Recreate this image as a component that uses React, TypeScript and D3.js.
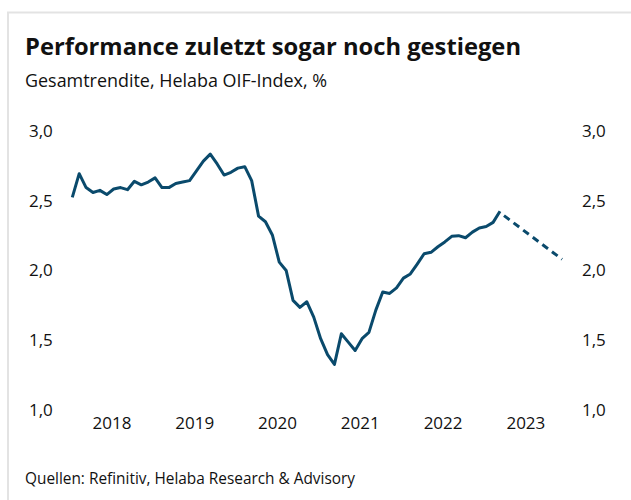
import React, { useEffect, useRef } from "react";
import * as d3 from "d3";

// monthly values, Jan 2018 .. Mar 2023
const returns = [
  2.52, 2.69, 2.59, 2.555, 2.57, 2.54, 2.58, 2.59, 2.575, 2.635, 2.61, 2.63,
  2.66, 2.59, 2.59, 2.62, 2.63, 2.64, 2.71, 2.78, 2.83, 2.76, 2.68, 2.7,
  2.73, 2.74, 2.64, 2.385, 2.345, 2.25, 2.055, 1.995, 1.78, 1.73, 1.77, 1.66,
  1.505, 1.39, 1.32, 1.54, 1.48, 1.42, 1.505, 1.55, 1.71, 1.84, 1.83, 1.87,
  1.94, 1.97, 2.04, 2.115, 2.125, 2.165, 2.2, 2.24, 2.245, 2.23, 2.27, 2.3,
  2.31, 2.34, 2.42,
];
// forecast: Mar 2023 -> Dec 2023
const forecastMonths = [62, 71];
const forecastValues = [2.41, 2.075];

const years = ["2018", "2019", "2020", "2021", "2022", "2023"];
const yTicks = [1.0, 1.5, 2.0, 2.5, 3.0];

const title = "Performance zuletzt sogar noch gestiegen";
const subtitle = "Gesamtrendite, Helaba OIF-Index, %";
const source = "Quellen: Refinitiv, Helaba Research & Advisory";

const W = 631;
const H = 500;
const BLUE = "#0a4a6c";
const FONT = "'Open Sans', 'Noto Sans', sans-serif";

export default function App() {
  const ref = useRef<SVGSVGElement>(null);

  useEffect(() => {
    const svg = d3.select(ref.current);
    svg.selectAll("*").remove();

    const x = d3.scaleLinear().domain([0, 62]).range([72.3, 500]);
    const y = d3.scaleLinear().domain([1, 3]).range([409, 130.5]);

    // frame
    svg.append("path")
      .attr("d", `M8,${H} L8,12.5 L${W},12.5`)
      .attr("fill", "none")
      .attr("stroke", "#e3e3e3")
      .attr("stroke-width", 2);

    svg.append("text")
      .attr("x", 25)
      .attr("y", 54.5)
      .attr("font-family", FONT)
      .attr("font-weight", "bold")
      .attr("font-size", 23)
      .attr("fill", "#111")
      .attr("textLength", 496)
      .attr("lengthAdjust", "spacingAndGlyphs")
      .text(title);

    svg.append("text")
      .attr("x", 25)
      .attr("y", 87)
      .attr("font-family", FONT)
      .attr("font-size", 17.5)
      .attr("fill", "#111")
      .attr("textLength", 302)
      .attr("lengthAdjust", "spacingAndGlyphs")
      .text(subtitle);

    svg.append("text")
      .attr("x", 25)
      .attr("y", 484)
      .attr("font-family", FONT)
      .attr("font-size", 16.5)
      .attr("fill", "#111")
      .attr("textLength", 330)
      .attr("lengthAdjust", "spacingAndGlyphs")
      .text(source);

    // y labels, both sides
    const fmt = (v: number) => d3.format(".1f")(v).replace(".", ",");
    [29, 582].forEach((lx) => {
      svg.append("g")
        .selectAll("text")
        .data(yTicks)
        .enter()
        .append("text")
        .attr("x", lx)
        .attr("y", (d) => y(d) + 6.5)
        .attr("font-family", FONT)
        .attr("font-size", 17)
        .attr("fill", "#111")
        .text((d) => fmt(d));
    });

    // year labels near mid year
    svg.append("g")
      .selectAll("text")
      .data(years)
      .enter()
      .append("text")
      .attr("x", (d, i) => x(5.75 + 12 * i))
      .attr("y", 429)
      .attr("text-anchor", "middle")
      .attr("font-family", FONT)
      .attr("font-size", 17)
      .attr("fill", "#111")
      .text((d) => d);

    const line = d3
      .line<number>()
      .x((d, i) => x(i))
      .y((d) => y(d));

    svg.append("path")
      .datum(returns)
      .attr("d", line)
      .attr("fill", "none")
      .attr("stroke", BLUE)
      .attr("stroke-width", 3)
      .attr("stroke-linejoin", "round");

    const fLine = d3
      .line<number>()
      .x((d, i) => x(forecastMonths[i]))
      .y((d) => y(d));

    svg.append("path")
      .datum(forecastValues)
      .attr("d", fLine)
      .attr("fill", "none")
      .attr("stroke", BLUE)
      .attr("stroke-width", 3)
      .attr("stroke-dasharray", "7,5")
      .attr("stroke-dashoffset", -5);
  }, []);

  return (
    <svg
      ref={ref}
      width={W}
      height={H}
      style={{ position: "absolute", left: 0, top: 0, background: "#fff" }}
    />
  );
}
